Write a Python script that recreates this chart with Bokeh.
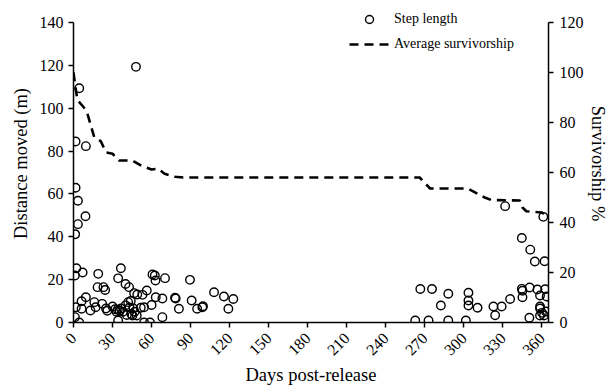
import math
from bokeh.plotting import figure
from bokeh.models import (LinearAxis, Range1d, SingleIntervalTicker, Legend, LegendItem,
                          ColumnDataSource)
from bokeh.embed import file_html
from bokeh.resources import INLINE

# ---- data ----
step_day = [1.6, 4.4, 9.5, 48, 1.6, 3.4, 3.4, 1.3, 9.2,
            2.2, 1.1, 7.0, 19, 36.4, 34.3,
            18.5, 23, 24.3, 40, 42.7, 46.6, 49, 53, 56.3,
            60.7, 62.5, 63, 70.3, 63.2, 68.3, 78, 78.5, 81, 89.5, 90.8, 95, 99, 99.5, 108, 115.6, 119, 122.8,
            68.3, 54.2, 58.8, 34.3, 60, 54.2, 51.7, 48.6, 45.3,
            38, 40, 42, 43, 44, 46, 47, 41, 44.5,
            34, 33, 35.5, 36.5, 32,
            30, 25, 26, 22, 16, 17, 13, 9.5, 6.2, 1.8, 6.2, 1.1, 4.4,
            262.6, 272.8, 288, 301.5,
            266.5, 275.5, 288, 282.3,
            303.5, 303.5, 303.5, 310.5,
            322.7, 324, 329, 335.5,
            331.7, 361, 344.5, 351, 354.5, 362,
            344.5, 345, 345, 350.5, 350.3, 356.5, 358.5, 358.5, 358.5, 358.5, 361.5, 362.4, 363.6, 363, 360]
step_dist = [84.5, 109.3, 82.3, 119.3, 62.9, 56.8, 45.9, 41.2, 49.6,
             25.3, 21.9, 23.3, 22.7, 25.3, 20.6,
             16.5, 16.5, 15.2, 18, 16.5, 13.7, 13.1, 12.9, 14.9,
             22.4, 21.9, 19.6, 20.7, 11.8, 11.2, 11.6, 11.2, 6.4, 19.9, 10.3, 6.4, 7.1, 7.6, 14.1, 12.1, 6.4, 11,
             2.5, 0, 0, 0.9, 8.2, 7.1, 6.9, 3.3, 3.3,
             5, 8, 9.5, 7, 10, 6.5, 5, 3.5, 4,
             6, 5, 5.5, 6.5, 6.2,
             7.5, 6.5, 5.5, 8.7, 9.5, 7.1, 5.6, 11.8, 9.9, 7.1, 6.4, 2.5, 0,
             0.9, 0.9, 0.9, 0.9,
             15.6, 15.6, 13.4, 7.9,
             13.9, 10.3, 7.9, 6.9,
             7.5, 3.4, 7.5, 11,
             54.3, 49.3, 39.4, 34, 28.5, 28.6,
             15.7, 14.8, 11.8, 16.3, 2.2, 15.4, 12.6, 7.5, 6.5, 3.3, 3.3, 15.5, 12.1, 5.1, 4.5]

surv_day = [0, 1, 3, 8, 11, 16, 21, 25, 30, 35, 45, 53, 60, 65, 70, 78, 85,
            266, 274, 303, 316, 321, 343, 345, 348, 360, 363]
surv_pct = [100, 96, 89, 86, 83, 74, 72.5, 68, 67.5, 64.8, 64.8, 62.5, 61.2, 61.5, 59.5, 58.3, 58,
            58, 53.6, 53.6, 50, 49, 48.8, 46, 44.5, 44, 42.8]

x_ticks_interval = 30
left_ticks_interval = 20
right_ticks_interval = 20
left_max = 140
right_max = 120
x_max = 365

FONT = "Liberation Serif"

# frame extends a little above the top tick so the legend can sit there
headroom = 1.06
p = figure(width=615, height=389, output_backend="svg", toolbar_location=None,
           x_range=Range1d(0, x_max), y_range=Range1d(0, left_max * headroom),
           min_border_left=73, min_border_right=67, min_border_top=4, min_border_bottom=67,
           x_axis_type=None, y_axis_type=None)
p.outline_line_color = None
p.xgrid.visible = False
p.ygrid.visible = False
p.extra_y_ranges = {"surv": Range1d(0, right_max * headroom)}

def style_axis(ax):
    ax.axis_line_color = "black"
    ax.axis_line_width = 1.5
    ax.major_tick_line_color = "black"
    ax.major_tick_line_width = 1.5
    ax.major_tick_in = 0
    ax.major_tick_out = 5
    ax.minor_tick_line_color = None
    ax.major_label_text_font = FONT
    ax.major_label_text_font_size = "16px"
    ax.major_label_text_color = "black"
    ax.axis_label_text_font = FONT
    ax.axis_label_text_font_size = "18.5px"
    ax.axis_label_text_font_style = "normal"
    ax.axis_label_text_color = "black"

xaxis = LinearAxis(ticker=SingleIntervalTicker(interval=x_ticks_interval), axis_label="Days post-release")
style_axis(xaxis)
xaxis.major_label_orientation = math.pi / 4
xaxis.major_label_standoff = 8
xaxis.axis_label_standoff = 2
p.add_layout(xaxis, "below")

yaxis = LinearAxis(ticker=SingleIntervalTicker(interval=left_ticks_interval), axis_label="Distance moved (m)",
                   bounds=(0, left_max))
style_axis(yaxis)
yaxis.major_label_standoff = 5
yaxis.axis_label_standoff = 6
p.add_layout(yaxis, "left")

raxis = LinearAxis(y_range_name="surv", ticker=SingleIntervalTicker(interval=right_ticks_interval),
                   axis_label="Survivorship %", bounds=(0, right_max))
style_axis(raxis)
raxis.major_label_standoff = 6
raxis.axis_label_standoff = 1
p.add_layout(raxis, "right")

src_step = ColumnDataSource(dict(x=step_day, y=step_dist))
src_surv = ColumnDataSource(dict(x=surv_day, y=surv_pct))

line_r = p.line("x", "y", source=src_surv, y_range_name="surv", line_color="black",
                line_width=2.6, line_dash="9 6")
sc_r = p.scatter("x", "y", source=src_step, marker="circle", size=8.5, fill_color=None,
                 line_color="black", line_width=1.4)

legend = Legend(items=[LegendItem(label="Step length", renderers=[sc_r]),
                       LegendItem(label="Average survivorship", renderers=[line_r])],
                location=(276, 268), padding=0, margin=0, spacing=5,
                glyph_width=40, glyph_height=20, label_height=20, label_standoff=5,
                label_text_font=FONT, label_text_font_size="14px", label_text_color="black",
                background_fill_alpha=0, border_line_alpha=0)
p.add_layout(legend, "center")

open("out.html", "w").write(file_html(p, INLINE))
